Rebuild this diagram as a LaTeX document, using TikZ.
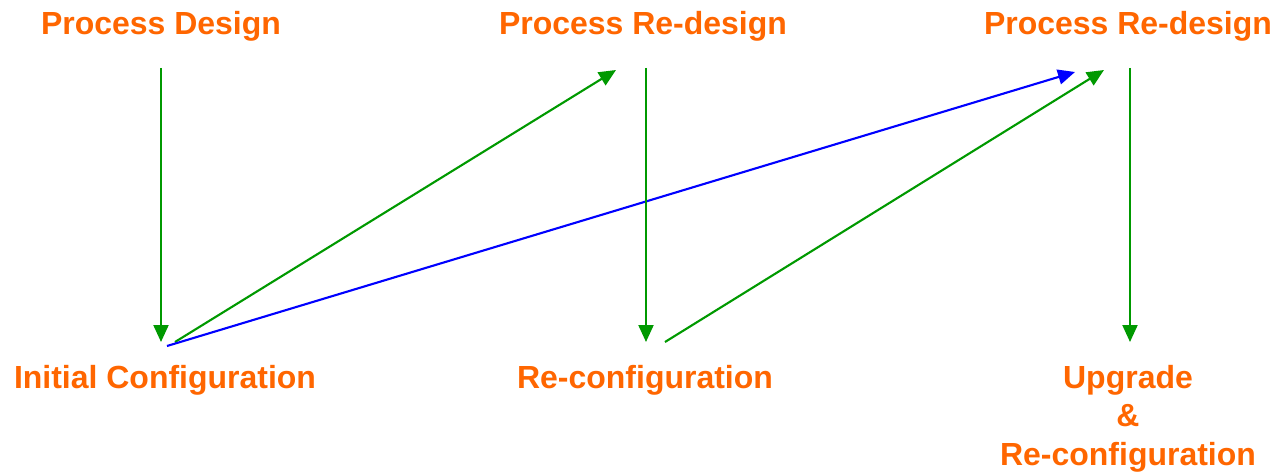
\documentclass[tikz,border=0pt]{standalone}
\usepackage{fontspec}
\setmainfont{Liberation Sans}
\usetikzlibrary{arrows.meta}
\definecolor{lbl}{HTML}{FF6600}
\definecolor{grn}{HTML}{009900}
\definecolor{blu}{HTML}{0000FF}
\begin{document}
\begin{tikzpicture}[x=0.02cm,y=-0.02cm,
  lab/.style={text=lbl,font=\fontsize{18.2pt}{21.8pt}\selectfont\bfseries,inner sep=0pt,anchor=base,align=center},
  garr/.style={draw=grn,line width=1.2pt,-{Triangle[length=0.34cm,width=0.30cm]}},
  barr/.style={draw=blu,line width=1.2pt,-{Triangle[length=0.34cm,width=0.30cm]}}]
\useasboundingbox (0,0) rectangle (1276,473);
\node[lab] (pd) at (161,35) {Process Design};
\node[lab] (pr1) at (643,35) {Process Re-design};
\node[lab] (pr2) at (1128,35) {Process Re-design};
\node[lab] (ic) at (165,388) {Initial Configuration};
\node[lab] (rc) at (645,388) {Re-configuration};
\node[lab,anchor=north] (up) at (1128,365) {Upgrade\\\&\\Re-configuration};
% arrow end points
\coordinate (pdS) at (161,68);
\coordinate (icN) at (161,342);
\coordinate (icA) at (175,342);
\coordinate (icB) at (167,346);
\coordinate (pr1A) at (616,70);
\coordinate (pr1S) at (646,68);
\coordinate (rcN) at (646,342);
\coordinate (rcA) at (665,342);
\coordinate (pr2B) at (1075,72);
\coordinate (pr2A) at (1104,70);
\coordinate (pr2S) at (1130,68);
\coordinate (upN) at (1130,342);
\draw[garr] (pdS) -- (icN);
\draw[garr] (icA) -- (pr1A);
\draw[barr] (icB) -- (pr2B);
\draw[garr] (pr1S) -- (rcN);
\draw[garr] (rcA) -- (pr2A);
\draw[garr] (pr2S) -- (upN);
\end{tikzpicture}
\end{document}
